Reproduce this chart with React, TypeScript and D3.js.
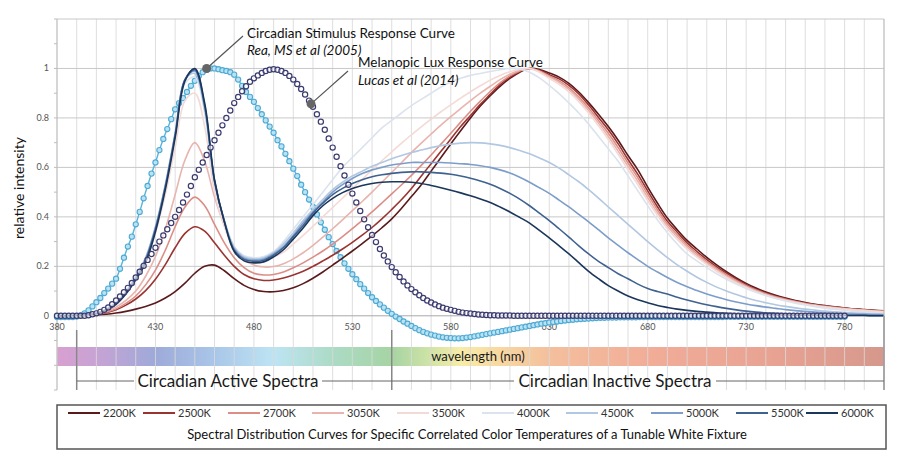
import React from 'react';
import * as d3 from 'd3';

// ---------- data ----------
const cctLabels = ['2200K', '2500K', '2700K', '3050K', '3500K', '4000K', '4500K', '5000K', '5500K', '6000K'];

// spectral power distributions, 380..800 nm every 5 nm
const spd2200 = [0, 0, 0, 0.001, 0.003,
  0.006, 0.011, 0.018, 0.027, 0.038, 0.052, 0.072, 0.098, 0.132, 0.172, 0.2, 0.205,
  0.182, 0.15, 0.123, 0.106, 0.098, 0.097, 0.102, 0.113, 0.13, 0.152, 0.177, 0.205,
  0.233, 0.262, 0.292, 0.323, 0.356, 0.392, 0.435, 0.482, 0.53, 0.585, 0.64, 0.695,
  0.748, 0.8, 0.848, 0.89, 0.928, 0.96, 0.985, 1.0, 0.996, 0.982, 0.965, 0.94,
  0.905, 0.862, 0.815, 0.765, 0.71, 0.648, 0.59, 0.52, 0.455, 0.395, 0.348, 0.305,
  0.27, 0.236, 0.206, 0.178, 0.153, 0.131, 0.112, 0.096, 0.083, 0.072, 0.062, 0.054,
  0.047, 0.041, 0.036, 0.032, 0.028, 0.025, 0.022, 0.02];
const spd2500 = [0, 0, 0, 0.002, 0.005,
  0.012, 0.024, 0.043, 0.068, 0.102, 0.148, 0.207, 0.275, 0.333, 0.36, 0.342, 0.295,
  0.245, 0.2, 0.167, 0.15, 0.143, 0.145, 0.153, 0.165, 0.18, 0.2, 0.222, 0.245,
  0.27, 0.297, 0.326, 0.357, 0.392, 0.43, 0.47, 0.515, 0.565, 0.615, 0.665, 0.715,
  0.765, 0.81, 0.855, 0.895, 0.935, 0.965, 0.988, 1.0, 0.993, 0.975, 0.958, 0.932,
  0.897, 0.852, 0.802, 0.752, 0.695, 0.632, 0.572, 0.505, 0.44, 0.382, 0.338, 0.295,
  0.26, 0.227, 0.198, 0.172, 0.148, 0.126, 0.107, 0.092, 0.079, 0.069, 0.06, 0.052,
  0.045, 0.04, 0.035, 0.031, 0.027, 0.024, 0.021, 0.019];
const spd2700 = [0, 0, 0, 0.002, 0.006,
  0.014, 0.028, 0.05, 0.08, 0.125, 0.185, 0.265, 0.36, 0.44, 0.48, 0.445, 0.37,
  0.295, 0.235, 0.195, 0.172, 0.165, 0.167, 0.177, 0.194, 0.214, 0.237, 0.262, 0.29,
  0.32, 0.352, 0.386, 0.42, 0.456, 0.493, 0.53, 0.568, 0.608, 0.65, 0.694, 0.738,
  0.783, 0.827, 0.868, 0.907, 0.942, 0.97, 0.99, 1.0, 0.99, 0.97, 0.95, 0.922,
  0.885, 0.84, 0.79, 0.738, 0.68, 0.618, 0.558, 0.492, 0.428, 0.372, 0.328, 0.286,
  0.252, 0.22, 0.192, 0.166, 0.143, 0.122, 0.104, 0.089, 0.077, 0.067, 0.058, 0.05,
  0.044, 0.038, 0.034, 0.03, 0.026, 0.023, 0.02, 0.018];
const spd3050 = [0, 0, 0.001, 0.003, 0.008,
  0.018, 0.035, 0.062, 0.1, 0.16, 0.24, 0.35, 0.49, 0.63, 0.7, 0.625, 0.48,
  0.365, 0.28, 0.228, 0.205, 0.197, 0.199, 0.21, 0.23, 0.255, 0.285, 0.318, 0.352,
  0.388, 0.425, 0.462, 0.5, 0.54, 0.58, 0.62, 0.66, 0.698, 0.735, 0.771, 0.805,
  0.838, 0.87, 0.9, 0.928, 0.955, 0.977, 0.993, 1.0, 0.988, 0.966, 0.944, 0.914,
  0.876, 0.83, 0.779, 0.725, 0.666, 0.604, 0.544, 0.478, 0.416, 0.362, 0.318, 0.278,
  0.244, 0.213, 0.186, 0.16, 0.138, 0.118, 0.1, 0.086, 0.074, 0.064, 0.056, 0.048,
  0.042, 0.036, 0.032, 0.028, 0.025, 0.022, 0.019, 0.017];
const spd3500 = [0, 0, 0.002, 0.004, 0.01,
  0.026, 0.052, 0.094, 0.15, 0.22, 0.335, 0.49, 0.68, 0.87, 0.9, 0.765, 0.5,
  0.36, 0.268, 0.236, 0.228, 0.228, 0.238, 0.258, 0.29, 0.325, 0.362, 0.4, 0.438,
  0.476, 0.514, 0.552, 0.59, 0.627, 0.663, 0.698, 0.732, 0.764, 0.795, 0.825, 0.853,
  0.88, 0.906, 0.93, 0.953, 0.972, 0.987, 0.997, 1.0, 0.985, 0.96, 0.936, 0.905,
  0.866, 0.82, 0.768, 0.713, 0.653, 0.59, 0.53, 0.465, 0.405, 0.352, 0.309, 0.27,
  0.237, 0.207, 0.18, 0.155, 0.133, 0.114, 0.097, 0.083, 0.071, 0.062, 0.054, 0.046,
  0.04, 0.035, 0.031, 0.027, 0.024, 0.021, 0.018, 0.016];
const spd4000 = [0, 0, 0.002, 0.005, 0.011,
  0.028, 0.056, 0.1, 0.16, 0.235, 0.36, 0.525, 0.73, 0.94, 0.965, 0.82, 0.535,
  0.385, 0.28, 0.243, 0.235, 0.24, 0.26, 0.3, 0.35, 0.4, 0.45, 0.5, 0.55,
  0.6, 0.64, 0.68, 0.72, 0.76, 0.79, 0.82, 0.85, 0.875, 0.9, 0.925, 0.945,
  0.96, 0.972, 0.98, 0.988, 0.995, 1.0, 0.998, 0.985, 0.962, 0.932, 0.898, 0.86,
  0.82, 0.775, 0.725, 0.675, 0.625, 0.565, 0.505, 0.445, 0.387, 0.336, 0.29, 0.25,
  0.222, 0.195, 0.17, 0.148, 0.128, 0.11, 0.095, 0.082, 0.07, 0.06, 0.051, 0.044,
  0.037, 0.031, 0.026, 0.022, 0.018, 0.015, 0.012, 0.01];
const spd4500 = [0, 0, 0.002, 0.005, 0.011,
  0.028, 0.055, 0.1, 0.16, 0.235, 0.36, 0.53, 0.74, 0.955, 0.98, 0.835, 0.54,
  0.385, 0.275, 0.238, 0.23, 0.235, 0.255, 0.29, 0.335, 0.385, 0.43, 0.47, 0.51,
  0.54, 0.565, 0.585, 0.605, 0.62, 0.635, 0.648, 0.66, 0.67, 0.68, 0.688, 0.694,
  0.698, 0.7, 0.699, 0.695, 0.689, 0.68, 0.668, 0.655, 0.638, 0.62, 0.597, 0.57,
  0.542, 0.51, 0.476, 0.44, 0.405, 0.37, 0.335, 0.3, 0.267, 0.235, 0.206, 0.18,
  0.156, 0.135, 0.116, 0.1, 0.086, 0.073, 0.062, 0.053, 0.045, 0.038, 0.032, 0.027,
  0.023, 0.019, 0.016, 0.013, 0.011, 0.009, 0.007, 0.006];
const spd5000 = [0, 0, 0.002, 0.005, 0.01,
  0.026, 0.052, 0.096, 0.156, 0.23, 0.355, 0.525, 0.735, 0.955, 0.99, 0.845, 0.545,
  0.382, 0.27, 0.233, 0.225, 0.23, 0.25, 0.28, 0.325, 0.375, 0.42, 0.46, 0.5,
  0.53, 0.555, 0.575, 0.59, 0.6, 0.61, 0.615, 0.62, 0.62, 0.62, 0.62, 0.618,
  0.615, 0.612, 0.607, 0.6, 0.59, 0.577, 0.56, 0.54, 0.518, 0.495, 0.468, 0.44,
  0.41, 0.38, 0.348, 0.315, 0.285, 0.255, 0.227, 0.2, 0.177, 0.155, 0.135, 0.118,
  0.102, 0.088, 0.076, 0.065, 0.056, 0.048, 0.041, 0.035, 0.03, 0.025, 0.021, 0.018,
  0.015, 0.012, 0.01, 0.008, 0.007, 0.006, 0.005, 0.004];
const spd5500 = [0, 0, 0.002, 0.005, 0.01,
  0.025, 0.05, 0.093, 0.152, 0.225, 0.35, 0.52, 0.73, 0.955, 0.995, 0.85, 0.545,
  0.38, 0.265, 0.228, 0.22, 0.225, 0.245, 0.275, 0.32, 0.365, 0.415, 0.455, 0.49,
  0.515, 0.535, 0.55, 0.562, 0.57, 0.576, 0.58, 0.582, 0.582, 0.58, 0.577, 0.572,
  0.565, 0.556, 0.545, 0.532, 0.515, 0.495, 0.472, 0.445, 0.415, 0.385, 0.352, 0.318,
  0.283, 0.25, 0.22, 0.195, 0.17, 0.15, 0.128, 0.11, 0.098, 0.088, 0.075, 0.064,
  0.054, 0.045, 0.037, 0.03, 0.024, 0.019, 0.015, 0.012, 0.01, 0.008, 0.006, 0.005,
  0.004, 0.003, 0.003, 0.002, 0.002, 0.002, 0.001, 0.001];
const spd6000 = [0, 0, 0.002, 0.004, 0.008,
  0.022, 0.046, 0.088, 0.145, 0.215, 0.34, 0.51, 0.72, 0.95, 1.0, 0.86, 0.55,
  0.38, 0.26, 0.222, 0.214, 0.218, 0.238, 0.267, 0.31, 0.355, 0.405, 0.445, 0.475,
  0.498, 0.515, 0.527, 0.535, 0.54, 0.542, 0.542, 0.54, 0.535, 0.527, 0.518, 0.508,
  0.497, 0.485, 0.472, 0.458, 0.44, 0.42, 0.398, 0.375, 0.345, 0.315, 0.283, 0.25,
  0.215, 0.18, 0.15, 0.122, 0.1, 0.08, 0.065, 0.053, 0.042, 0.034, 0.027, 0.022,
  0.018, 0.015, 0.012, 0.01, 0.008, 0.006, 0.005, 0.004, 0.003, 0.003, 0.002, 0.002,
  0.002, 0.001, 0.001, 0.001, 0.001, 0.001, 0, 0];

// circadian stimulus response (Rea et al 2005), 380..780 nm every 2 nm
const reaResponse = [
  -0.005, -0.005, -0.005, -0.005, -0.005, -0.003, 0.002, 0.01, 0.022, 0.038,
  0.055, 0.072, 0.092, 0.11, 0.13, 0.15, 0.19, 0.235, 0.28, 0.32,
  0.37, 0.42, 0.475, 0.525, 0.575, 0.62, 0.67, 0.715, 0.755, 0.795,
  0.835, 0.86, 0.88, 0.905, 0.93, 0.95, 0.97, 0.985, 0.995, 1.0,
  1.0, 0.997, 0.993, 0.99, 0.985, 0.975, 0.955, 0.93, 0.905, 0.885,
  0.865, 0.84, 0.815, 0.79, 0.765, 0.74, 0.71, 0.685, 0.655, 0.625,
  0.595, 0.565, 0.53, 0.5, 0.47, 0.44, 0.41, 0.378, 0.348, 0.318,
  0.29, 0.262, 0.237, 0.212, 0.19, 0.168, 0.148, 0.128, 0.11, 0.092,
  0.075, 0.06, 0.046, 0.033, 0.02, 0.008, -0.003, -0.013, -0.023, -0.032,
  -0.041, -0.05, -0.058, -0.065, -0.071, -0.076, -0.08, -0.084, -0.087, -0.089,
  -0.09, -0.091, -0.091, -0.09, -0.088, -0.086, -0.083, -0.08, -0.077, -0.074,
  -0.071, -0.068, -0.065, -0.062, -0.059, -0.056, -0.053, -0.05, -0.047, -0.044,
  -0.041, -0.038, -0.035, -0.032, -0.03, -0.027, -0.025, -0.023, -0.021, -0.019,
  -0.017, -0.016, -0.014, -0.013, -0.012, -0.011, -0.01, -0.009, -0.008, -0.008,
  -0.007, -0.007, -0.007, -0.006, -0.006, -0.006, -0.006, -0.006, -0.005, -0.005,
  -0.005, -0.005, -0.005, -0.005, -0.005, -0.005, -0.005, -0.005, -0.005, -0.005,
  -0.005, -0.005, -0.005, -0.005, -0.005, -0.005, -0.005, -0.005, -0.005, -0.005,
  -0.004, -0.004, -0.004, -0.004, -0.004, -0.004, -0.004, -0.004, -0.004, -0.004,
  -0.004, -0.004, -0.004, -0.004, -0.004, -0.004, -0.004, -0.004, -0.004, -0.004,
  -0.004, -0.004, -0.004, -0.004, -0.004, -0.004, -0.004, -0.004, -0.004, -0.004,
  -0.004];

// melanopic lux response (Lucas et al 2014), 380..780 nm every 2 nm
const melanopicResponse = [
  0, 0, 0, 0, 0, 0, 0, 0, 0.002, 0.006,
  0.01, 0.016, 0.024, 0.034, 0.047, 0.062, 0.078, 0.095, 0.113, 0.133,
  0.155, 0.178, 0.202, 0.226, 0.25, 0.275, 0.3, 0.325, 0.35, 0.375,
  0.4, 0.428, 0.458, 0.49, 0.525, 0.56, 0.59, 0.62, 0.65, 0.68,
  0.71, 0.74, 0.77, 0.8, 0.83, 0.86, 0.885, 0.908, 0.928, 0.946,
  0.96, 0.972, 0.982, 0.99, 0.995, 0.997, 0.995, 0.99, 0.982, 0.97,
  0.955, 0.937, 0.917, 0.895, 0.87, 0.845, 0.815, 0.785, 0.752, 0.717,
  0.68, 0.643, 0.605, 0.567, 0.53, 0.494, 0.458, 0.424, 0.39, 0.358,
  0.327, 0.298, 0.27, 0.244, 0.22, 0.197, 0.176, 0.157, 0.139, 0.123,
  0.108, 0.095, 0.083, 0.072, 0.062, 0.054, 0.046, 0.039, 0.033, 0.028,
  0.024, 0.02, 0.016, 0.013, 0.011, 0.009, 0.007, 0.005, 0.004, 0.003,
  0.002, 0.002, 0.001, 0.001, 0.001, 0.001, 0, 0, 0, 0,
  0, 0, 0, 0, 0, 0, 0, 0, 0, 0,
  0, 0, 0, 0, 0, 0, 0, 0, 0, 0,
  0, 0, 0, 0, 0, 0, 0, 0, 0, 0,
  0, 0, 0, 0, 0, 0, 0, 0, 0, 0,
  0, 0, 0, 0, 0, 0, 0, 0, 0, 0,
  0, 0, 0, 0, 0, 0, 0, 0, 0, 0,
  0, 0, 0, 0, 0, 0, 0, 0, 0, 0,
  0, 0, 0, 0, 0, 0, 0, 0, 0, 0,
  0];

const xTickValues = [380, 430, 480, 530, 580, 630, 680, 730, 780];
const yTickValues = [0, 0.2, 0.4, 0.6, 0.8, 1];
const yTickLabels = ['0', '0.2', '0.4', '0.6', '0.8', '1'];

const reaTitle = 'Circadian Stimulus Response Curve';
const reaSource = 'Rea, MS et al (2005)';
const melTitle = 'Melanopic Lux Response Curve';
const melSource = 'Lucas et al (2014)';
const reaDot = { nm: 456, v: 1.0 };
const melDot = { nm: 509, v: 0.857 };

const activeRange = [390, 550];
const spectrumStops: [number, string][] = [
  [380, '#d8a0d0'], [400, '#c7a3d4'], [430, '#9eaad9'], [460, '#a9c6e8'],
  [490, '#bde4f3'], [520, '#acdbc6'], [550, '#a6d4a3'], [568, '#cde2a6'],
  [585, '#f8eca9'], [605, '#f8d8a0'], [630, '#f4bf9d'], [680, '#f1ad98'],
  [740, '#e9a393'], [800, '#d6988c'],
];

// ---------- styles / layout ----------
const seriesColors = ['#5a1a1c', '#9a3431', '#dc8e86', '#e9b4ad', '#f4dad6',
  '#dbe3ee', '#b2c7e1', '#7c9dca', '#3f6190', '#1b365b'];
const legendLineX = [68, 143, 228, 312, 397, 482, 566, 651, 736, 806];
const FONT = "Lato, 'Open Sans', 'DejaVu Sans', sans-serif";

export default function App() {
  const W = 900, H = 466;
  const left = 57, right = 884, top = 19, bottom = 390;
  const x = d3.scaleLinear().domain([380, 800]).range([left, right]);
  const y = d3.scaleLinear().domain([-0.3, 1.2]).range([bottom, top]);

  const spdSeries = [spd2200, spd2500, spd2700, spd3050, spd3500, spd4000, spd4500, spd5000, spd5500, spd6000];
  const spdNm = (i: number) => 380 + 5 * i;
  const mkNm = (i: number) => 380 + 2 * i;

  const spdLine = d3.line<number>()
    .x((_, i) => x(spdNm(i)))
    .y((d) => y(d))
    .curve(d3.curveCatmullRom.alpha(0.5));
  const reaLine = d3.line<number>()
    .x((_, i) => x(mkNm(i)))
    .y((d) => y(d))
    .curve(d3.curveCatmullRom.alpha(0.5));

  const vGrid = d3.range(380, 801, 10);
  const hGrid = [0.2, 0.4, 0.6, 0.8, 1.0, 1.2];
  const minorTicks = d3.range(-3, 13).map((k) => k / 10);

  const barTop = 347, barH = 19;
  const bracketY = 381;
  const xa = x(activeRange[0]);
  const xb = x(activeRange[1]);

  const reaPx = { x: x(reaDot.nm), y: y(reaDot.v) };
  const melPx = { x: x(melDot.nm), y: y(melDot.v) };

  return (
    <svg width={W} height={H} style={{ position: 'absolute', left: 0, top: 0, fontFamily: FONT }}>
      <defs>
        <linearGradient id="spec" x1={left} x2={right} y1={0} y2={0} gradientUnits="userSpaceOnUse">
          {spectrumStops.map(([nm, c], i) => (
            <stop key={i} offset={(x(nm) - left) / (right - left)} stopColor={c} />
          ))}
        </linearGradient>
      </defs>
      <rect x={0} y={0} width={W} height={H} fill="#fff" />

      {/* spectrum bar */}
      <rect x={left} y={barTop} width={right - left} height={barH} fill="url(#spec)" />

      {/* grid */}
      {vGrid.map((v) => (
        <line key={'v' + v} x1={x(v)} x2={x(v)} y1={top} y2={bottom}
          stroke="#d8d8d8" strokeOpacity={0.85} strokeWidth={1} />
      ))}
      {hGrid.map((v) => (
        <line key={'h' + v} x1={left} x2={right} y1={y(v)} y2={y(v)} stroke="#c8c8c8" strokeWidth={1} />
      ))}
      <line x1={left} x2={right} y1={y(0)} y2={y(0)} stroke="#a8a8a8" strokeWidth={1} />
      <line x1={left} x2={left} y1={top} y2={bottom} stroke="#bdbdbd" strokeWidth={1} />
      {minorTicks.map((v, i) => (
        <line key={'mt' + i} x1={left - 3} x2={left} y1={y(v)} y2={y(v)} stroke="#bdbdbd" strokeWidth={1} />
      ))}

      <text x={478} y={barTop + 14} fontSize={13} fill="#1a1a1a" textAnchor="middle">wavelength (nm)</text>

      {/* tick labels */}
      {yTickValues.map((v, i) => (
        <text key={'yl' + i} x={49} y={y(v) + 3} fontSize={9} fill="#555" textAnchor="end">{yTickLabels[i]}</text>
      ))}
      {xTickValues.map((v) => (
        <text key={'xl' + v} x={x(v)} y={330} fontSize={9} fill="#555" textAnchor="middle">{v}</text>
      ))}
      <text transform={`translate(24,${188}) rotate(-90)`} fontSize={14} fill="#111" textAnchor="middle">relative intensity</text>

      {/* Rea curve (behind SPDs) */}
      <path d={reaLine(reaResponse) || ''} fill="none" stroke="#5ab3da" strokeWidth={1.4} />
      {reaResponse.map((v, i) => (
        <circle key={'r' + i} cx={x(mkNm(i))} cy={y(v)} r={2.6} fill="#b9e2f3" stroke="#4eaad4" strokeWidth={1.1} />
      ))}

      {/* SPD curves */}
      {spdSeries.map((s, k) => (
        <path key={'s' + k} d={spdLine(s) || ''} fill="none" stroke={seriesColors[k]} strokeWidth={1.6} />
      ))}

      {/* melanopic markers */}
      {melanopicResponse.map((v, i) => (
        <circle key={'m' + i} cx={x(mkNm(i))} cy={y(v)} r={2.6} fill="#ffffff" fillOpacity={0.6} stroke="#3b3b70" strokeWidth={1.2} />
      ))}

      {/* annotations */}
      <line x1={reaPx.x} y1={reaPx.y} x2={243} y2={36} stroke="#555" strokeWidth={1.2} />
      <circle cx={reaPx.x} cy={reaPx.y} r={4.5} fill="#666" />
      <text x={247} y={38} fontSize={13.5} fill="#111">{reaTitle}</text>
      <text x={247} y={55} fontSize={13.5} fill="#111" fontStyle="italic">{reaSource}</text>
      <line x1={melPx.x} y1={melPx.y} x2={348} y2={71} stroke="#555" strokeWidth={1.2} />
      <circle cx={melPx.x} cy={melPx.y} r={4.5} fill="#666" />
      <text x={358} y={67} fontSize={13.5} fill="#111">{melTitle}</text>
      <text x={358} y={85} fontSize={13.5} fill="#111" fontStyle="italic">{melSource}</text>

      {/* circadian brackets */}
      <line x1={xa} x2={xa} y1={330} y2={bottom} stroke="#888" strokeWidth={1.5} />
      <line x1={xb} x2={xb} y1={330} y2={bottom} stroke="#888" strokeWidth={1.5} />
      <line x1={right} x2={right} y1={top} y2={bottom} stroke="#bbb" strokeWidth={1} />
      <line x1={right} x2={right} y1={y(0)} y2={bottom} stroke="#999" strokeWidth={1.5} />
      <line x1={xa} x2={134} y1={bracketY} y2={bracketY} stroke="#666" strokeWidth={1} />
      <line x1={322} x2={xb} y1={bracketY} y2={bracketY} stroke="#666" strokeWidth={1} />
      <text x={(134 + 322) / 2} y={bracketY + 6} fontSize={17} fill="#1a1a1a" textAnchor="middle">Circadian Active Spectra</text>
      <line x1={xb} x2={514} y1={bracketY} y2={bracketY} stroke="#666" strokeWidth={1} />
      <line x1={716} x2={right} y1={bracketY} y2={bracketY} stroke="#666" strokeWidth={1} />
      <text x={(514 + 716) / 2} y={bracketY + 6} fontSize={17} fill="#1a1a1a" textAnchor="middle">Circadian Inactive Spectra</text>

      {/* legend */}
      <rect x={57} y={405} width={829} height={44} fill="#fff" stroke="#555" strokeWidth={1.5} />
      {cctLabels.map((lab, k) => (
        <g key={'lg' + k}>
          <line x1={legendLineX[k]} x2={legendLineX[k] + 32} y1={413} y2={413} stroke={seriesColors[k]} strokeWidth={2} />
          <text x={legendLineX[k] + 35} y={417} fontSize={11} fill="#333">{lab}</text>
        </g>
      ))}
      <text x={467} y={439} fontSize={13} fill="#111" textAnchor="middle">
        Spectral Distribution Curves for Specific Correlated Color Temperatures of a Tunable White Fixture
      </text>
    </svg>
  );
}
